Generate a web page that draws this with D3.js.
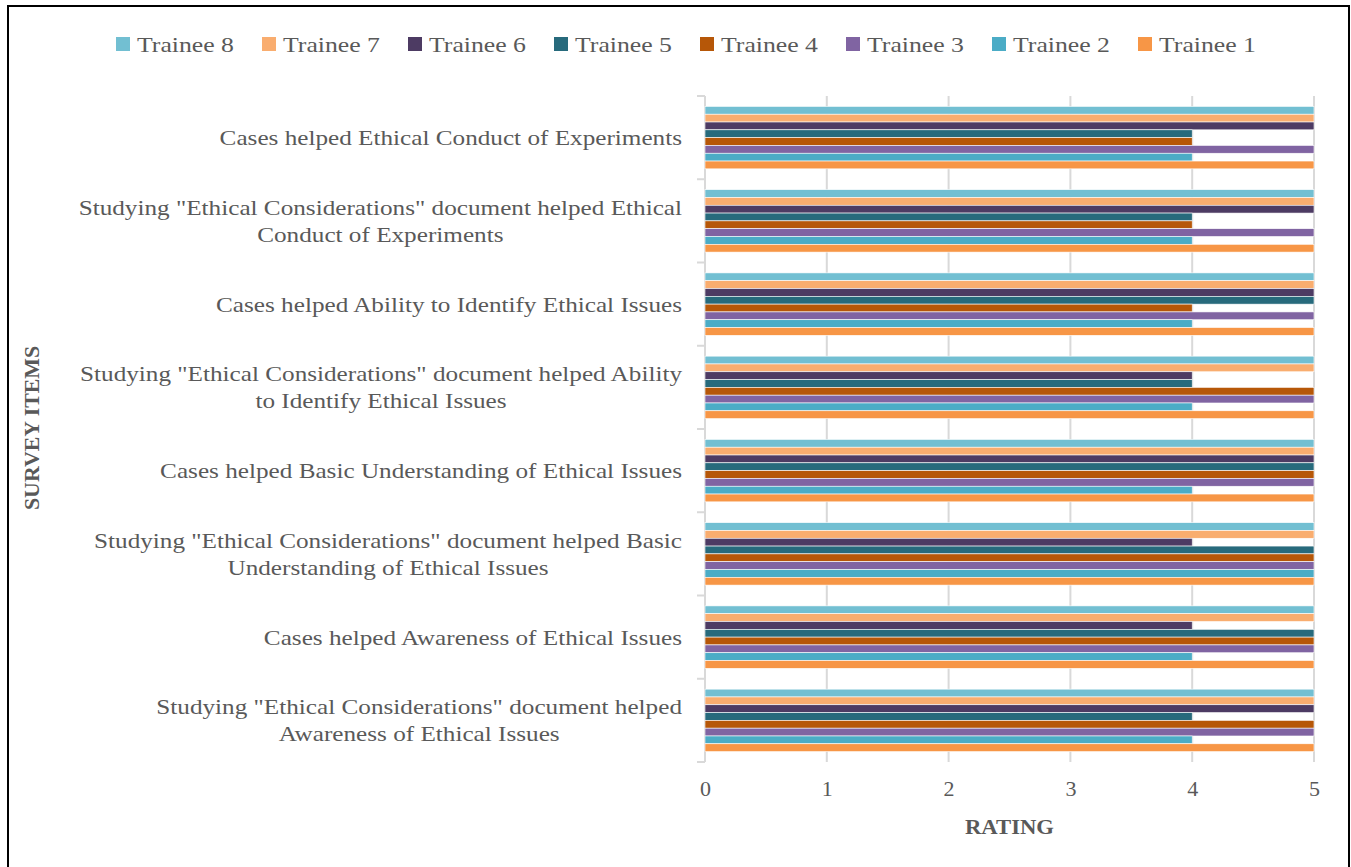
<!DOCTYPE html>
<html>
<head>
<meta charset="utf-8">
<script src="https://cdn.jsdelivr.net/npm/d3@7"></script>
<style>
  html, body { margin: 0; padding: 0; background: #fff; }
  svg { display: block; }
  text { font-family: "Liberation Serif", "DejaVu Serif", serif; fill: #595959; }
</style>
</head>
<body>
<svg id="chart" width="1351" height="867"></svg>
<script>
// ---- Data ----
const categories = [
  'Cases helped Ethical Conduct of Experiments',
  'Studying "Ethical Considerations" document helped Ethical Conduct of Experiments',
  'Cases helped Ability to Identify Ethical Issues',
  'Studying "Ethical Considerations" document helped Ability to Identify Ethical Issues',
  'Cases helped Basic Understanding of Ethical Issues',
  'Studying "Ethical Considerations" document helped Basic Understanding of Ethical Issues',
  'Cases helped Awareness of Ethical Issues',
  'Studying "Ethical Considerations" document helped Awareness of Ethical Issues'
];
// line breaks as displayed in the reference
const categoryLines = [
  ['Cases helped Ethical Conduct of Experiments'],
  ['Studying "Ethical Considerations" document helped Ethical', 'Conduct of Experiments'],
  ['Cases helped Ability to Identify Ethical Issues'],
  ['Studying "Ethical Considerations" document helped Ability', 'to Identify Ethical Issues'],
  ['Cases helped Basic Understanding of Ethical Issues'],
  ['Studying "Ethical Considerations" document helped Basic', 'Understanding of Ethical Issues'],
  ['Cases helped Awareness of Ethical Issues'],
  ['Studying "Ethical Considerations" document helped', 'Awareness of Ethical Issues']
];
const seriesNames = ['Trainee 8', 'Trainee 7', 'Trainee 6', 'Trainee 5', 'Trainee 4', 'Trainee 3', 'Trainee 2', 'Trainee 1'];
// values per series, in the order of `categories`
const trainee8 = [5, 5, 5, 5, 5, 5, 5, 5];
const trainee7 = [5, 5, 5, 5, 5, 5, 5, 5];
const trainee6 = [5, 5, 5, 4, 5, 4, 4, 5];
const trainee5 = [4, 4, 5, 4, 5, 5, 5, 4];
const trainee4 = [4, 4, 4, 5, 5, 5, 5, 5];
const trainee3 = [5, 5, 5, 5, 5, 5, 5, 5];
const trainee2 = [4, 4, 4, 4, 4, 5, 4, 4];
const trainee1 = [5, 5, 5, 5, 5, 5, 5, 5];
const seriesValues = [trainee8, trainee7, trainee6, trainee5, trainee4, trainee3, trainee2, trainee1];
const xTicks = [0, 1, 2, 3, 4, 5];
const colors = ['#72BFD2', '#F9AD6F', '#4D3B63', '#276A7C', '#B65708', '#8064A2', '#4BACC6', '#F79646'];

// ---- Layout ----
const svg = d3.select('#chart');
const plot = { left: 705, right: 1314, top: 96, bottom: 762 };
const WIDEN = 1.145; // horizontal stretch to mimic the wider original typeface

function stretch(sel, factor) {
  sel.each(function () {
    const w = this.getComputedTextLength();
    d3.select(this).attr('textLength', w * factor).attr('lengthAdjust', 'spacingAndGlyphs');
  });
}

// outer frame
svg.append('rect').attr('x', 8).attr('y', 6).attr('width', 1341).attr('height', 875)
  .attr('fill', 'none').attr('stroke', '#000').attr('stroke-width', 2);

const x = d3.scaleLinear().domain([0, 5]).range([plot.left, plot.right]);
const y = d3.scaleBand().domain(categories).range([plot.top, plot.bottom])
  .paddingInner(0.25).paddingOuter(0.125);
const yInner = d3.scaleBand().domain(seriesNames).range([0, y.bandwidth()]);
const color = d3.scaleOrdinal().domain(seriesNames).range(colors);

// gridlines
svg.append('g').selectAll('line').data(xTicks.filter(d => d > 0)).join('line')
  .attr('x1', d => x(d)).attr('x2', d => x(d))
  .attr('y1', plot.top).attr('y2', plot.bottom)
  .attr('stroke', '#D9D9D9').attr('stroke-width', 2);

// y axis line with tick marks at category boundaries
const step = y.step();
const boundaries = d3.range(categories.length + 1).map(i => plot.top + i * step);
const yAxisG = svg.append('g');
yAxisG.append('line').attr('x1', plot.left).attr('x2', plot.left)
  .attr('y1', plot.top).attr('y2', plot.bottom).attr('stroke', '#D9D9D9').attr('stroke-width', 2);
yAxisG.selectAll('line.tk').data(boundaries).join('line').attr('class', 'tk')
  .attr('x1', plot.left - 8).attr('x2', plot.left)
  .attr('y1', d => d).attr('y2', d => d)
  .attr('stroke', '#D9D9D9').attr('stroke-width', 2);

// bars
const rows = [];
categories.forEach((c, ci) => {
  seriesNames.forEach((s, si) => rows.push({ cat: c, series: s, value: seriesValues[si][ci] }));
});
svg.append('g').selectAll('rect').data(rows).join('rect')
  .attr('x', x(0))
  .attr('y', d => y(d.cat) + yInner(d.series))
  .attr('width', d => x(d.value) - x(0))
  .attr('height', yInner.bandwidth())
  .attr('fill', d => color(d.series))
  .attr('stroke', '#fff').attr('stroke-width', 0.6);

// x tick labels
const xAxis = d3.axisBottom(x).tickValues(xTicks).tickSize(0).tickPadding(0).tickFormat(d3.format('d'));
const xg = svg.append('g').attr('transform', `translate(0, 780)`).call(xAxis);
xg.select('.domain').remove();
xg.selectAll('text').attr('font-size', 22).attr('font-family', '"Liberation Serif", serif').attr('fill', '#595959');

// category labels
const labelRight = 682;
const lineH = 27;
const labG = svg.append('g');
categories.forEach((c, ci) => {
  const lines = categoryLines[ci];
  const cy = y(c) + y.bandwidth() / 2;
  const g = labG.append('g');
  const texts = lines.map((ln, li) => g.append('text')
    .attr('font-size', 22)
    .attr('text-anchor', 'middle')
    .attr('dominant-baseline', 'central')
    .attr('y', cy + (li - (lines.length - 1) / 2) * lineH)
    .text(ln));
  texts.forEach(t => stretch(t, WIDEN));
  const maxW = d3.max(texts, t => +t.attr('textLength'));
  texts.forEach(t => t.attr('x', labelRight - maxW / 2));
});

// axis titles
const rt = svg.append('text').attr('x', (plot.left + plot.right) / 2).attr('y', 827)
  .attr('text-anchor', 'middle').attr('dominant-baseline', 'central')
  .attr('font-size', 21).attr('font-weight', 'bold').text('RATING');
stretch(rt, 1.08);
const st = svg.append('text').attr('transform', 'translate(32, 428) rotate(-90)')
  .attr('text-anchor', 'middle').attr('dominant-baseline', 'central')
  .attr('font-size', 21).attr('font-weight', 'bold').text('SURVEY ITEMS');
stretch(st, 1.04);

// legend
const legendX0 = 116, legendStep = 146, legendY = 44;
const lg = svg.append('g').selectAll('g').data(seriesNames).join('g')
  .attr('transform', (d, i) => `translate(${legendX0 + i * legendStep}, ${legendY})`);
lg.append('rect').attr('x', 0).attr('y', -7).attr('width', 14).attr('height', 14)
  .attr('fill', d => color(d));
const lt = lg.append('text').attr('x', 21).attr('y', 0).attr('dominant-baseline', 'central')
  .attr('font-size', 22).text(d => d);
stretch(lt, 1.17);
</script>
</body>
</html>
